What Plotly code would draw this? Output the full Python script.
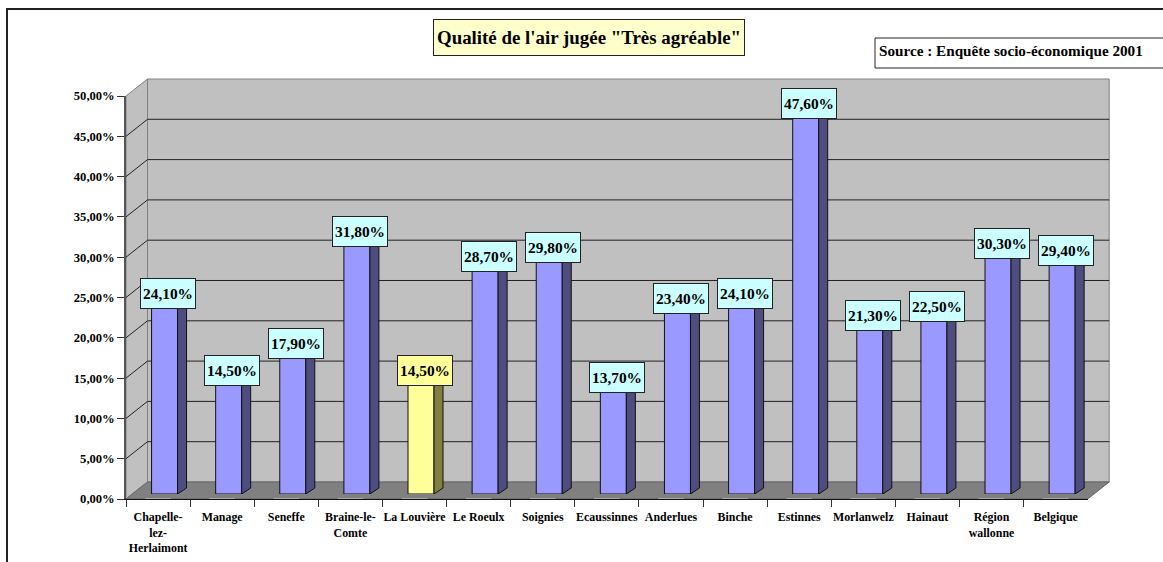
import plotly.graph_objects as go

categories = ["Chapelle-<br>lez-<br>Herlaimont", "Manage", "Seneffe", "Braine-le-<br>Comte",
              "La Louvière", "Le Roeulx", "Soignies", "Ecaussinnes", "Anderlues", "Binche",
              "Estinnes", "Morlanwelz", "Hainaut", "Région<br>wallonne", "Belgique"]
values = [24.1, 14.5, 17.9, 31.8, 14.5, 28.7, 29.8, 13.7, 23.4, 24.1, 47.6, 21.3, 22.5, 30.3, 29.4]
y_ticks = [0, 5, 10, 15, 20, 25, 30, 35, 40, 45, 50]
highlight = "La Louvière"
title_text = "Qualité de l'air jugée \"Très agréable\""
source_text = "Source : Enquête socio-économique 2001"

W, H = 1163, 562
FONT = "Liberation Serif"
X0, X1, Y0, Y1 = 126.0, 1087.7, 499.0, 96.0      # front plane of the axes, pixels
DX, DY = 21.5, 17.0                               # depth of the 3D box, pixels
BX, BY = 6.5, 5.0                                 # bars sit this far into the box
SX, SY = 9.0, 6.0                                 # depth of each bar, pixels
BAR_W = 26.0
step = (X1 - X0) / len(categories)
ppu = (Y0 - Y1) / 50
bar_frac = BAR_W / step

px = lambda x: x / W
py = lambda y: 1 - y / H
fmt = lambda v: f"{v:.2f}".replace(".", ",") + "%"
poly = lambda pts: "M" + " L".join(f"{px(a):.5f},{py(b):.5f}" for a, b in pts) + " Z"


def face(pts, fill, line="#808080", w=1):
    return dict(type="path", xref="paper", yref="paper", path=poly(pts), fillcolor=fill,
                line=dict(color=line, width=w), layer="below")


shapes = [
    face([(X0, Y1), (X0 + DX, Y1 - DY), (X0 + DX, Y0 - DY), (X0, Y0)], "#C0C0C0"),
    face([(X0 + DX, Y1 - DY), (X1 + DX, Y1 - DY), (X1 + DX, Y0 - DY), (X0 + DX, Y0 - DY)], "#C0C0C0"),
    face([(X0, Y0), (X0 + DX, Y0 - DY), (X1 + DX, Y0 - DY), (X1, Y0)], "#808080", "#666666"),
]
for t in y_ticks[1:-1]:
    y = Y0 - t * ppu
    pts = [(X0, y), (X0 + DX, y - DY), (X1 + DX, y - DY)]
    shapes.append(dict(type="path", xref="paper", yref="paper", layer="below",
                       path="M" + " L".join(f"{px(a):.5f},{py(b):.5f}" for a, b in pts),
                       line=dict(color="#222222", width=1)))
# page frame and the source box (both run off the page, as in the reference)
shapes.append(dict(type="rect", xref="paper", yref="paper", x0=px(7), x1=1.02, y0=-0.03, y1=py(9),
                   line=dict(color="#222222", width=2), layer="below"))
shapes.append(dict(type="rect", xref="paper", yref="paper", x0=px(875), x1=1.02, y0=py(68), y1=py(38),
                   line=dict(color="#222222", width=1), fillcolor="white", layer="below"))

fig = go.Figure()
xs = list(range(len(categories)))
base_colors = ["#FFFF99" if c == highlight else "#9999FF" for c in categories]
side_colors = ["#808040" if c == highlight else "#4D4D80" for c in categories]
label_colors = ["#FFFF99" if c == highlight else "#CCFFFF" for c in categories]

# invisible trace on the front plane gives the visible axes their categories
fig.add_trace(go.Bar(x=categories, y=[0] * len(categories), xaxis="x", yaxis="y",
                     showlegend=False, hoverinfo="skip", marker_color="rgba(0,0,0,0)"))

half = bar_frac / 2
dx_u, dy_u = SX / step, SY / ppu
for i, v in enumerate(values):
    side_x = [i + half, i + half + dx_u, i + half + dx_u, i + half, i + half]
    side_y = [0, dy_u, v + dy_u, v, 0]
    fig.add_trace(go.Scatter(x=side_x, y=side_y, xaxis="x2", yaxis="y2", mode="lines", fill="toself",
                             fillcolor=side_colors[i], line=dict(color="#111111", width=1),
                             showlegend=False, hoverinfo="skip"))

fig.add_trace(go.Bar(x=xs, y=values, xaxis="x2", yaxis="y2", width=bar_frac, showlegend=False,
                     marker=dict(color=base_colors, line=dict(color="#111111", width=1))))

annotations = []
for i, v in enumerate(values):
    annotations.append(dict(x=i, y=v, xref="x2", yref="y2", xshift=3.5, yshift=6.5, text=f"<b>{fmt(v)}</b>",
                            xanchor="center", yanchor="middle",
                            showarrow=False, width=54, height=29, align="center", valign="middle",
                            bgcolor=label_colors[i], bordercolor="#222222", borderwidth=1, borderpad=0,
                            font=dict(family=FONT, size=15.4, color="black")))
annotations.append(dict(x=px(589), y=py(37.7), xref="paper", yref="paper", showarrow=False,
                        xanchor="center", yanchor="middle",
                        text=f"<b>{title_text}</b>", width=310, height=35, bgcolor="#FFFFCC",
                        bordercolor="#222222", borderwidth=1, borderpad=0,
                        font=dict(family=FONT, size=18.9, color="black")))
annotations.append(dict(x=px(877), y=py(50), xref="paper", yref="paper", xanchor="left", yanchor="middle",
                        showarrow=False, text=f"<b>{source_text}</b>",
                        font=dict(family=FONT, size=15.2, color="black")))

fig.update_layout(
    width=W, height=H, margin=dict(l=0, r=0, t=0, b=0, autoexpand=False), paper_bgcolor="white",
    plot_bgcolor="rgba(0,0,0,0)",
    shapes=shapes, annotations=annotations, bargap=0.6, barmode="overlay",
    xaxis=dict(domain=[px(X0), px(X1)], type="category", tickmode="array", tickvals=categories, ticktext=categories,
               categoryorder="array", categoryarray=categories, range=[-0.5, len(categories) - 0.5],
               tickson="boundaries", ticks="outside", ticklen=7, tickcolor="#333333", tickwidth=1,
               tickangle=0, showgrid=False, zeroline=False, showline=True, linecolor="#111111", linewidth=1,
               automargin=False, ticklabelstandoff=7, anchor="y",
               tickfont=dict(family=FONT, size=11.9, color="black", weight="bold"), fixedrange=True),
    yaxis=dict(domain=[py(Y0), py(Y1)], range=[0, 50], tickmode="array", tickvals=y_ticks,
               ticktext=[fmt(t) for t in y_ticks], ticks="outside", ticklen=7, tickcolor="#333333", tickwidth=1,
               showgrid=False, zeroline=False, showline=True, linecolor="#555555", linewidth=1.5,
               automargin=False, anchor="x",
               tickfont=dict(family=FONT, size=12.6, color="black", weight="bold"), fixedrange=True),
    xaxis2=dict(domain=[px(X0 + BX), px(X1 + BX)], range=[-0.5, len(categories) - 0.5], anchor="y2",
                visible=False, fixedrange=True, automargin=False),
    yaxis2=dict(domain=[py(Y0 - BY), py(Y1 - BY)], range=[0, 50], anchor="x2", visible=False, fixedrange=True,
                automargin=False),
)
fig.write_html("out.html", config={"displayModeBar": False},
               post_script="document.body.style.margin='0';document.body.style.overflow='hidden';")
